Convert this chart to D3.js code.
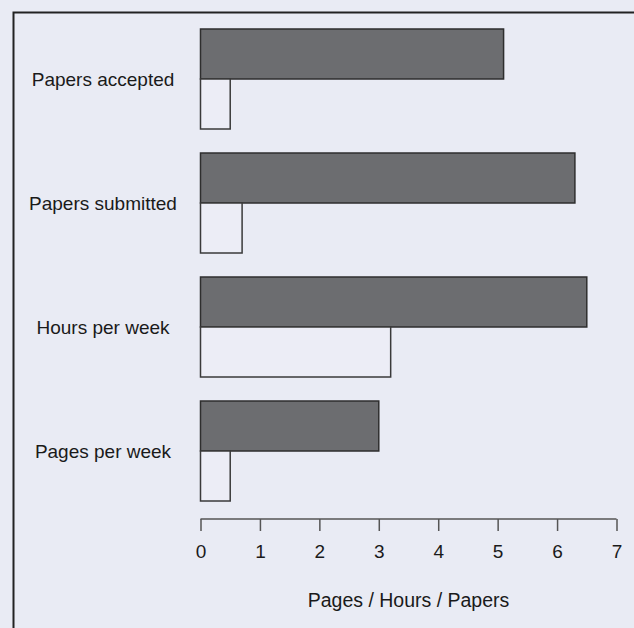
<!DOCTYPE html>
<html>
<head>
<meta charset="utf-8">
<script src="https://cdn.jsdelivr.net/npm/d3@7"></script>
<style>
  html, body { margin: 0; padding: 0; background: #e9ebf4; }
  svg { display: block; }
  text { font-family: "Liberation Sans", Arial, Helvetica, sans-serif; fill: #1a1a1a; }
</style>
</head>
<body>
<svg id="chart"></svg>
<script>
const width = 634
const height = 628

// categories top to bottom
const categories = ["Papers accepted", "Papers submitted", "Hours per week", "Pages per week"]
// dark bar (upper) and open bar (lower) of each pair
const darkValues = [5.1, 6.3, 6.5, 3.0]
const openValues = [0.5, 0.7, 3.2, 0.5]
const tickValues = [0, 1, 2, 3, 4, 5, 6, 7]
const axisTitle = "Pages / Hours / Papers"

const svg = d3.select("#chart")
    .attr("width", width)
    .attr("height", height)

// frame, cut off at the right and bottom like the scan
svg.append("path")
    .attr("d", `M${width + 5},12.5 H13.5 V${height + 5}`)
    .attr("fill", "none")
    .attr("stroke", "#222")
    .attr("stroke-width", 2)

const x = d3.scaleLinear()
    .domain([0, 7])
    .range([200.5, 616.5])

// each group holds two stacked bars, 124px apart
const y = d3.scaleBand()
    .domain(categories)
    .range([29, 501])
    .paddingInner(24 / 124)
    .paddingOuter(0)

const barH = y.bandwidth() / 2

const g = svg.append("g")

const group = g.selectAll("g.group")
    .data(categories)
    .join("g")
    .attr("class", "group")
    .attr("transform", d => `translate(0,${y(d)})`)

group.append("rect")
    .attr("x", x(0))
    .attr("y", 0)
    .attr("width", (d, i) => x(darkValues[i]) - x(0))
    .attr("height", barH)
    .attr("fill", "#6c6d70")
    .attr("stroke", "#2e2e2e")
    .attr("stroke-width", 1.5)

group.append("rect")
    .attr("x", x(0))
    .attr("y", barH)
    .attr("width", (d, i) => x(openValues[i]) - x(0))
    .attr("height", barH)
    .attr("fill", "#ecedf6")
    .attr("stroke", "#3a3a3a")
    .attr("stroke-width", 1.5)

group.append("text")
    .attr("x", 103)
    .attr("y", barH)
    .attr("dy", "0.35em")
    .attr("text-anchor", "middle")
    .style("font-size", "19px")
    .text(d => d)

// x axis with downward ticks
const axis = svg.append("g")
    .attr("transform", "translate(0,519)")
    .call(d3.axisBottom(x).tickValues(tickValues).tickSize(12).tickPadding(14).tickFormat(d3.format("d")))

axis.select(".domain")
    .attr("d", `M${x(0)},0 H${x(7)}`)
    .attr("stroke", "#555")
    .attr("stroke-width", 1.5)
axis.selectAll(".tick line")
    .attr("stroke", "#555")
    .attr("stroke-width", 1.5)
axis.selectAll(".tick text")
    .style("font-size", "19px")
    .attr("fill", "#1a1a1a")

svg.append("text")
    .attr("x", (x(0) + x(7)) / 2)
    .attr("y", 600)
    .attr("dy", "0.35em")
    .attr("text-anchor", "middle")
    .style("font-size", "19.5px")
    .text(axisTitle)
</script>
</body>
</html>
